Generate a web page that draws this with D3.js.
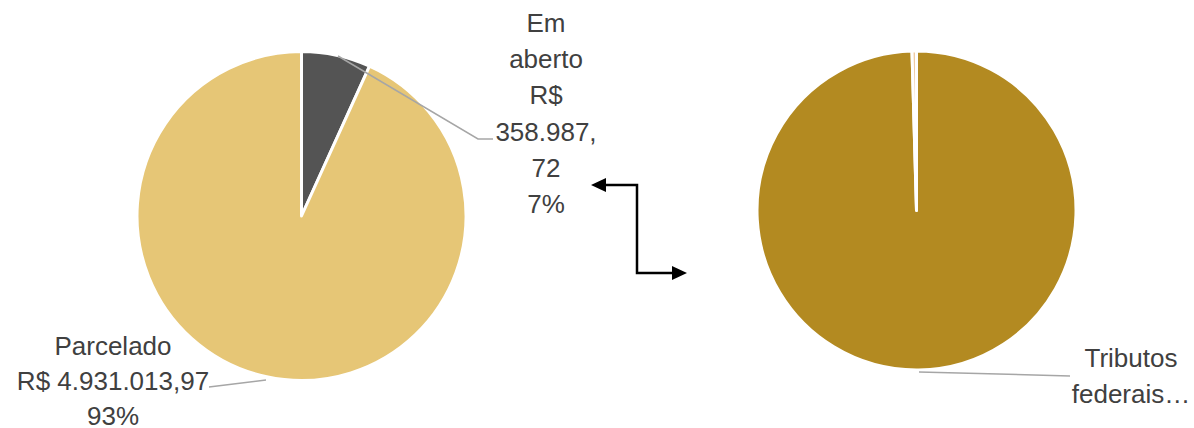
<!DOCTYPE html>
<html>
<head>
<meta charset="utf-8">
<script src="https://cdn.jsdelivr.net/npm/d3@7"></script>
<style>
  html, body { margin: 0; padding: 0; background: #ffffff; }
  svg { display: block; }
  text { font-family: "Liberation Sans", Arial, sans-serif; fill: #404040; }
</style>
</head>
<body>
<svg id="chart" width="1194" height="428"></svg>
<script>
// Situação dos débitos (pizza principal)
const leftCategories = ["Em aberto", "Parcelado"];
const leftValues = [358987.72, 4931013.97];
const leftColors = ["#545454", "#E6C676"];

// Composição do parcelamento (pizza secundária)
const rightCategories = ["Tributos federais…", "Demais tributos"];
const rightValues = [99.55, 0.45];
const rightColors = ["#B38A21", "#EFCBA2"];

const W = 1194, H = 428;
const svg = d3.select("#chart");

const br = d3.formatLocale({ decimal: ",", thousands: ".", grouping: [3], currency: ["R$ ", ""] });
const money = br.format(",.2f");
const pct = d3.format(".0%");

const pie = d3.pie().sort(null).startAngle(0).endAngle(2 * Math.PI);

function drawPie(cx, cy, r, values, colors) {
  const arc = d3.arc().innerRadius(0).outerRadius(r);
  const g = svg.append("g").attr("transform", `translate(${cx},${cy})`);
  const arcs = pie(values);
  g.selectAll("path").data(arcs).join("path")
    .attr("d", arc)
    .attr("fill", (d, i) => colors[i])
    .attr("stroke", "#ffffff")
    .attr("stroke-width", 3)
    .attr("stroke-linejoin", "round");
  return { arcs, arc };
}

// multi-line centred text block
function label(cx, y0, lines, step) {
  const t = svg.append("text")
    .attr("text-anchor", "middle")
    .attr("font-size", 26);
  lines.forEach((s, i) => {
    t.append("tspan").attr("x", cx).attr("y", y0 + i * step).text(s);
  });
}

function leader(points) {
  svg.append("path")
    .attr("d", d3.line()(points))
    .attr("fill", "none")
    .attr("stroke", "#A6A6A6")
    .attr("stroke-width", 1.5);
}

// Main pie
const L = { cx: 301.5, cy: 216, r: 164.5 };
drawPie(L.cx, L.cy, L.r, leftValues, leftColors);
const leftTotal = d3.sum(leftValues);

// Secondary pie
const R = { cx: 916.5, cy: 210.5, r: 159.5 };
drawPie(R.cx, R.cy, R.r, rightValues, rightColors);

// Labels — "Em aberto"
{
  const v = money(leftValues[0]);
  const cut = v.indexOf(",") + 1;
  const lines = [...leftCategories[0].split(" "), "R$", v.slice(0, cut), v.slice(cut), pct(leftValues[0] / leftTotal)];
  label(546, 32, lines, 36.2);
  leader([[338, 56], [478, 139], [493, 139]]);
}

// Labels — "Parcelado"
{
  const lines = [leftCategories[1], "R$ " + money(leftValues[1]), pct(leftValues[1] / leftTotal)];
  label(113, 355, lines, 35);
  leader([[209, 387], [266, 380]]);
}

// Labels — secondary pie
{
  const words = rightCategories[0].split(" ");
  label(1131, 367, words, 36);
  leader([[919, 372], [1070, 376]]);
}

// Connector between the two pies
const conn = svg.append("g");
const path = d3.path();
path.moveTo(604, 185);
path.lineTo(637, 185);
path.lineTo(637, 273);
path.lineTo(673, 273);
conn.append("path")
  .attr("d", path.toString())
  .attr("fill", "none")
  .attr("stroke", "#000000")
  .attr("stroke-width", 2.5);
conn.append("path")
  .attr("d", "M591,185 L606,178 L606,192 Z")
  .attr("fill", "#000000");
conn.append("path")
  .attr("d", "M687,273 L672,266 L672,280 Z")
  .attr("fill", "#000000");
</script>
</body>
</html>
